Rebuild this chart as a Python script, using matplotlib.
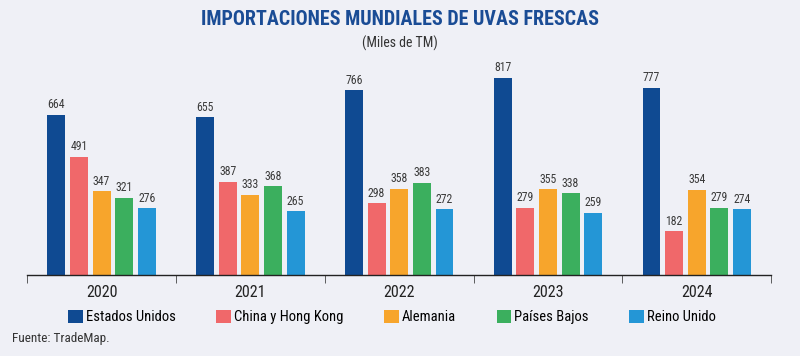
import numpy as np
import matplotlib.pyplot as plt
from matplotlib.patches import Patch

years = ["2020", "2021", "2022", "2023", "2024"]
countries = ["Estados Unidos", "China y Hong Kong", "Alemania", "Países Bajos", "Reino Unido"]
estados_unidos = [664, 655, 766, 817, 777]
china_hk = [491, 387, 298, 279, 182]
alemania = [347, 333, 358, 355, 354]
paises_bajos = [321, 368, 383, 338, 279]
reino_unido = [276, 265, 272, 259, 274]
colors = ["#0F4A92", "#F0686A", "#F7A52C", "#3BAF5E", "#2496D6"]

series = [estados_unidos, china_hk, alemania, paises_bajos, reino_unido]
bg = "#EFF0F6"
plt.rcParams['font.family'] = ["Roboto Condensed", "Roboto", "DejaVu Sans"]

fig = plt.figure(figsize=(8, 3.56), dpi=100, facecolor=bg)
ax = fig.add_axes([0.034, 0.2275, 0.93, 0.61])
ax.set_facecolor(bg)

x = np.arange(len(years))
step = 0.152
width = 0.12
for i, (vals, c) in enumerate(zip(series, colors)):
    pos = x + (i - 2) * step
    ax.bar(pos, vals, width=width, color=c, zorder=2)
    for p, v in zip(pos, vals):
        ax.text(p, v + 14, str(v), ha="center", va="bottom", fontsize=8.5, color="#3a3a3a")

ax.set_xlim(-0.5, len(years) - 0.5)
ax.set_ylim(0, 900)
ax.set_yticks([])
for s in ["top", "right", "left"]:
    ax.spines[s].set_visible(False)
ax.spines["bottom"].set_color("#222222")
ax.spines["bottom"].set_linewidth(1.0)

ax.set_xticks(x)
ax.set_xticklabels(years, fontsize=11.5, color="#222222")
ax.tick_params(axis="x", which="major", length=0, pad=7)
ax.set_xticks(np.arange(-0.5, len(years)), minor=True)
ax.tick_params(axis="x", which="minor", length=6, color="#444444", direction="out")

fig.text(0.5, 0.944, "IMPORTACIONES MUNDIALES DE UVAS FRESCAS", ha="center", va="center",
         fontsize=14.4, fontweight="bold", color="#1A4C95")
fig.text(0.5, 0.879, "(Miles de TM)", ha="center", va="center", fontsize=10, color="#333333")

handles = [Patch(facecolor=c, edgecolor="none") for c in colors]
fig.legend(handles, countries, loc="center", bbox_to_anchor=(0.49, 0.11), ncol=5,
           frameon=False, fontsize=10.5, handlelength=1.0, handleheight=1.0,
           handletextpad=0.2, columnspacing=2.8)

fig.text(0.015, 0.05, "Fuente: TradeMap.", ha="left", va="center", fontsize=9.5, color="#333333")

fig.savefig("out.png", dpi=100, facecolor=bg)
